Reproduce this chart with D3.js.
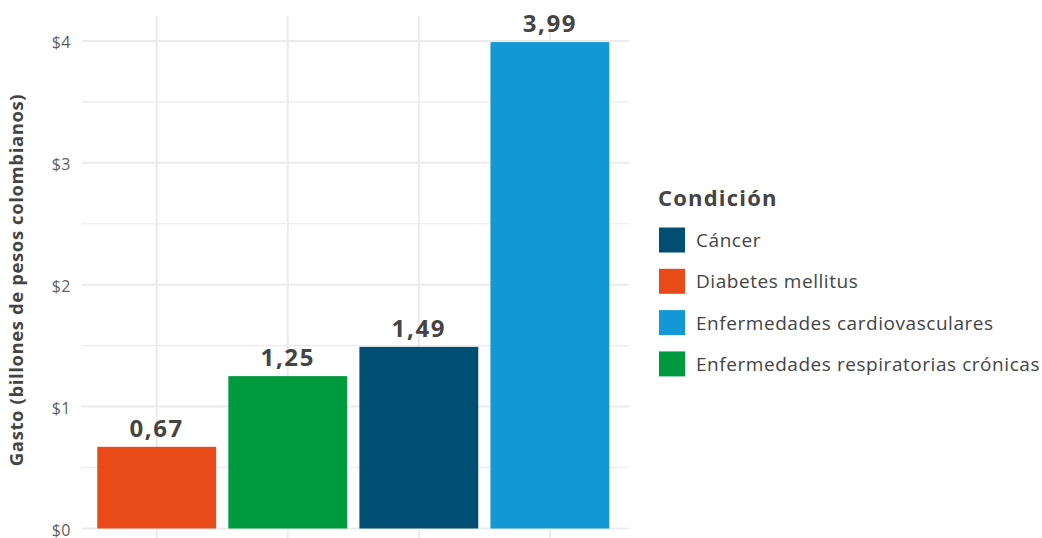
<!DOCTYPE html>
<html>
<head>
<meta charset="utf-8">
<script src="https://cdn.jsdelivr.net/npm/d3@7"></script>
<style>
  html, body { margin: 0; padding: 0; background: #fff; }
  svg { display: block; font-family: "Open Sans", Lato, sans-serif; }
</style>
</head>
<body>
<svg id="chart" width="1042" height="538"></svg>
<script>
// Gasto por condición (billones de pesos colombianos), ordered by value
const categories = ["Diabetes mellitus", "Enfermedades respiratorias crónicas", "Cáncer", "Enfermedades cardiovasculares"];
const values = [0.67, 1.25, 1.49, 3.99];
const legendOrder = ["Cáncer", "Diabetes mellitus", "Enfermedades cardiovasculares", "Enfermedades respiratorias crónicas"];
const colors = ["#E84A1A", "#009A3E", "#004E72", "#1497D5"];
const yTicks = [0, 1, 2, 3, 4];
const yMinorTicks = [0.5, 1.5, 2.5, 3.5];

const svg = d3.select("#chart");
const panel = { left: 82, right: 629, top: 16, bottom: 538 };

const locale = d3.formatLocale({ decimal: ",", thousands: ".", grouping: [3], currency: ["$", ""] });
const fmtValue = locale.format(".2f");
const fmtTick = v => "$" + locale.format("d")(v);

const color = d3.scaleOrdinal().domain(categories).range(colors);

const x = d3.scaleBand()
  .domain(categories)
  .range([91.2, 615.4])
  .paddingInner(0.093)
  .paddingOuter(0.0465);

const y = d3.scaleLinear().domain([0, 4.2]).range([528.5, 16.5]);

const grid = svg.append("g").attr("stroke", "#ebebeb").attr("fill", "none");

// minor horizontal grid
grid.selectAll("line.minor").data(yMinorTicks).join("line")
  .attr("class", "minor")
  .attr("x1", panel.left).attr("x2", panel.right)
  .attr("y1", d => y(d)).attr("y2", d => y(d))
  .attr("stroke-width", 1.1);

// major horizontal grid
grid.selectAll("line.major").data(yTicks).join("line")
  .attr("class", "major")
  .attr("x1", panel.left).attr("x2", panel.right)
  .attr("y1", d => y(d)).attr("y2", d => y(d))
  .attr("stroke-width", 2);

// vertical grid at category centers
grid.selectAll("line.vert").data(categories).join("line")
  .attr("class", "vert")
  .attr("x1", d => x(d) + x.bandwidth() / 2).attr("x2", d => x(d) + x.bandwidth() / 2)
  .attr("y1", panel.top).attr("y2", panel.bottom)
  .attr("stroke-width", 2);

// y axis tick labels
const yAxis = d3.axisLeft(y).tickValues(yTicks).tickFormat(fmtTick).tickSize(0).tickPadding(0);
const yAxisG = svg.append("g").attr("transform", "translate(71,0)").call(yAxis);
yAxisG.select(".domain").remove();
yAxisG.selectAll("text")
  .attr("fill", "#5e5e5e")
  .attr("dy", "0.42em")
  .style("font-size", "16px")
  .style("letter-spacing", "0.5px")
  .style("font-family", "'Open Sans', Lato, sans-serif");

// bars
const data = categories.map((c, i) => ({ cat: c, value: values[i] }));
svg.append("g").selectAll("rect").data(data).join("rect")
  .attr("x", d => x(d.cat))
  .attr("width", x.bandwidth())
  .attr("y", d => y(d.value))
  .attr("height", d => y(0) - y(d.value))
  .attr("fill", d => color(d.cat));

// value labels
svg.append("g").selectAll("text").data(data).join("text")
  .attr("x", d => x(d.cat) + x.bandwidth() / 2)
  .attr("y", d => y(d.value) - 10)
  .attr("text-anchor", "middle")
  .attr("fill", "#444")
  .style("font-size", "24px")
  .style("font-weight", "bold")
  .style("letter-spacing", "1.6px")
  .text(d => fmtValue(d.value));

// y axis title
svg.append("text")
  .attr("transform", "translate(23,280) rotate(-90)")
  .attr("text-anchor", "middle")
  .attr("fill", "#444")
  .style("font-size", "18.5px")
  .style("font-weight", "bold")
  .style("letter-spacing", "0.6px")
  .text("Gasto (billones de pesos colombianos)");

// legend
const legend = svg.append("g").attr("transform", "translate(659,0)");
legend.append("text")
  .attr("x", -1).attr("y", 206)
  .attr("fill", "#444")
  .style("font-size", "22px")
  .style("font-weight", "bold")
  .style("letter-spacing", "1.2px")
  .text("Condición");

const item = legend.selectAll("g.item").data(legendOrder).join("g")
  .attr("class", "item")
  .attr("transform", (d, i) => `translate(0,${227.5 + i * 41.3})`);
item.append("rect")
  .attr("width", 26).attr("height", 25)
  .attr("fill", d => color(d));
item.append("text")
  .attr("x", 37).attr("y", 19.5)
  .attr("fill", "#444")
  .style("font-size", "19px")
  .style("letter-spacing", "0.55px")
  .text(d => d);
</script>
</body>
</html>
